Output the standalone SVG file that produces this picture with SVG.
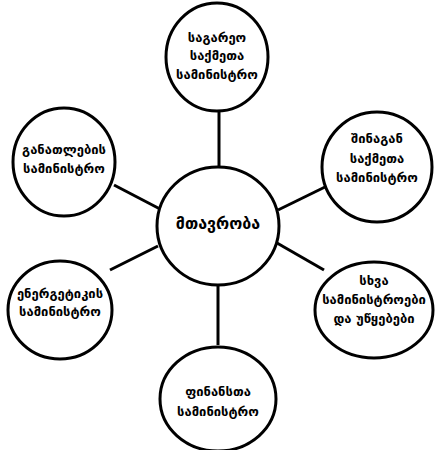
<svg xmlns="http://www.w3.org/2000/svg" width="435" height="450" viewBox="0 0 435 450">
<style>
.n{fill:#fff;stroke:#000;stroke-width:3}
.c line{stroke:#000;stroke-width:3}
text{font-family:"DejaVu Sans",sans-serif;font-size:13px;fill:#000;text-anchor:middle;font-weight:bold}
.big{font-size:16px}
</style>
<rect width="435" height="450" fill="#fff"/>
<g class="c" id="connectors">
<line x1="219" y1="110" x2="219" y2="168"/>
<line x1="114" y1="185" x2="160" y2="209"/>
<line x1="278" y1="210" x2="325" y2="187"/>
<line x1="158" y1="246" x2="110" y2="270"/>
<line x1="277" y1="243" x2="324" y2="270"/>
<line x1="218" y1="285" x2="218" y2="345"/>
</g>
<g id="center"><ellipse class="n" cx="218" cy="226" rx="61" ry="59"/><text class="big" x="218" y="229">მთავრობა</text></g>
<g id="n-top"><ellipse class="n" cx="217" cy="57" rx="51" ry="54"/><text x="217" y="42">საგარეო</text><text x="217" y="60">საქმეთა</text><text x="217" y="79">სამინისტრო</text></g>
<g id="n-ul"><ellipse class="n" cx="64" cy="162" rx="51" ry="54"/><text x="64" y="154">განათლების</text><text x="64" y="173">სამინისტრო</text></g>
<g id="n-ur"><ellipse class="n" cx="377" cy="167" rx="55" ry="55"/><text x="377" y="143">შინაგან</text><text x="377" y="163">საქმეთა</text><text x="377" y="182">სამინისტრო</text></g>
<g id="n-ll"><ellipse class="n" cx="60" cy="310" rx="52" ry="49"/><text x="60" y="298">ენერგეტიკის</text><text x="60" y="316">სამინისტრო</text></g>
<g id="n-lr"><ellipse class="n" cx="374" cy="310" rx="59" ry="48"/><text x="374" y="285">სხვა</text><text x="374" y="304">სამინისტროები</text><text x="374" y="323">და უწყებები</text></g>
<g id="n-bottom"><ellipse class="n" cx="218" cy="399" rx="58" ry="52"/><text x="218" y="396">ფინანსთა</text><text x="218" y="416">სამინისტრო</text></g>
</svg>
